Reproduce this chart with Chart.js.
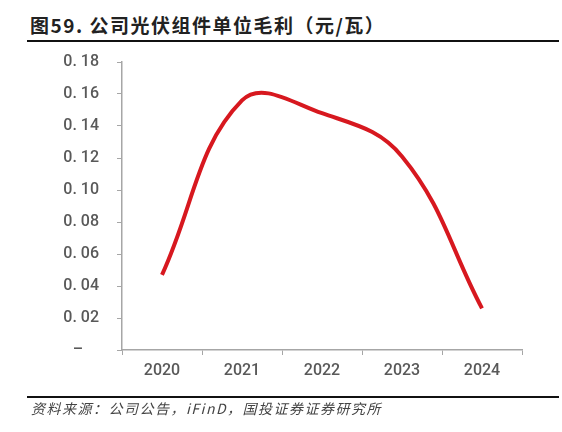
<!DOCTYPE html>
<html><head><meta charset="utf-8">
<script src="https://cdn.jsdelivr.net/npm/chart.js@4.4.1/dist/chart.umd.min.js"></script>
<style>
html,body{margin:0;padding:0;background:#fff;}
#wrap{position:relative;width:562px;height:432px;overflow:hidden;}
#title{position:absolute;left:30px;top:11px;font-family:"Noto Sans CJK SC";font-weight:bold;font-size:19px;letter-spacing:1.5px;line-height:28px;color:#222;white-space:nowrap;}
#tline{position:absolute;left:27px;top:40px;width:532px;height:2px;background:#111;}
#sline{position:absolute;left:27px;top:396px;width:532px;height:2px;background:#111;}
#src{position:absolute;left:31px;top:399px;font-family:"Noto Sans CJK SC";font-style:italic;font-size:14px;letter-spacing:1.5px;line-height:18px;color:#444;white-space:nowrap;}
#cv{position:absolute;left:0;top:0;}
</style></head>
<body><div id="wrap">
<div id="title">图59. 公司光伏组件单位毛利（元/瓦）</div>
<div id="tline"></div>
<canvas id="cv" width="562" height="432"></canvas>
<div id="sline"></div>
<div id="src">资料来源：公司公告，iFinD，国投证券证券研究所</div>
</div>
<script>
const categories = ['2020', '2021', '2022', '2023', '2024'];
const grossMarginPerWatt = [0.047, 0.156, 0.148, 0.121, 0.026];
const yTickValues = [0, 0.02, 0.04, 0.06, 0.08, 0.10, 0.12, 0.14, 0.16, 0.18];
const yTickLabels = ['–    ', '0. 02', '0. 04', '0. 06', '0. 08', '0. 10', '0. 12', '0. 14', '0. 16', '0. 18'];

const axisColor = '#a6a6a6';
const tickFont = {family: 'Roboto, "Liberation Sans", Arial, sans-serif', size: 16, weight: 500};

new Chart(document.getElementById('cv'), {
  type: 'line',
  data: {
    labels: categories,
    datasets: [{
      data: grossMarginPerWatt,
      borderColor: '#d7181f',
      borderWidth: 4,
      pointRadius: 0,
      tension: 0.4,
      fill: false
    }]
  },
  options: {
    responsive: false,
    animation: false,
    devicePixelRatio: 1,
    layout: {padding: {left: 0, right: 40, top: 62, bottom: 0}},
    plugins: {legend: {display: false}, tooltip: {enabled: false}},
    scales: {
      x: {
        offset: true,
        grid: {display: true, drawOnChartArea: false, drawTicks: true, tickLength: 5, color: axisColor, offset: true},
        border: {display: true, color: axisColor, width: 1.5},
        ticks: {color: '#595959', font: tickFont, padding: 6, maxRotation: 0},
        afterFit: s => { s.height = 82; }
      },
      y: {
        min: 0, max: 0.18,
        afterBuildTicks: s => { s.ticks = yTickValues.map(v => ({value: v})); },
        grid: {display: true, drawOnChartArea: false, drawTicks: true, tickLength: 5, color: axisColor},
        border: {display: true, color: axisColor, width: 1.5},
        ticks: {
          color: '#595959', font: tickFont, padding: 18,
          callback: (v, i) => yTickLabels[i]
        },
        afterFit: s => { s.width = 122; }
      }
    }
  }
});
</script>
</body></html>
